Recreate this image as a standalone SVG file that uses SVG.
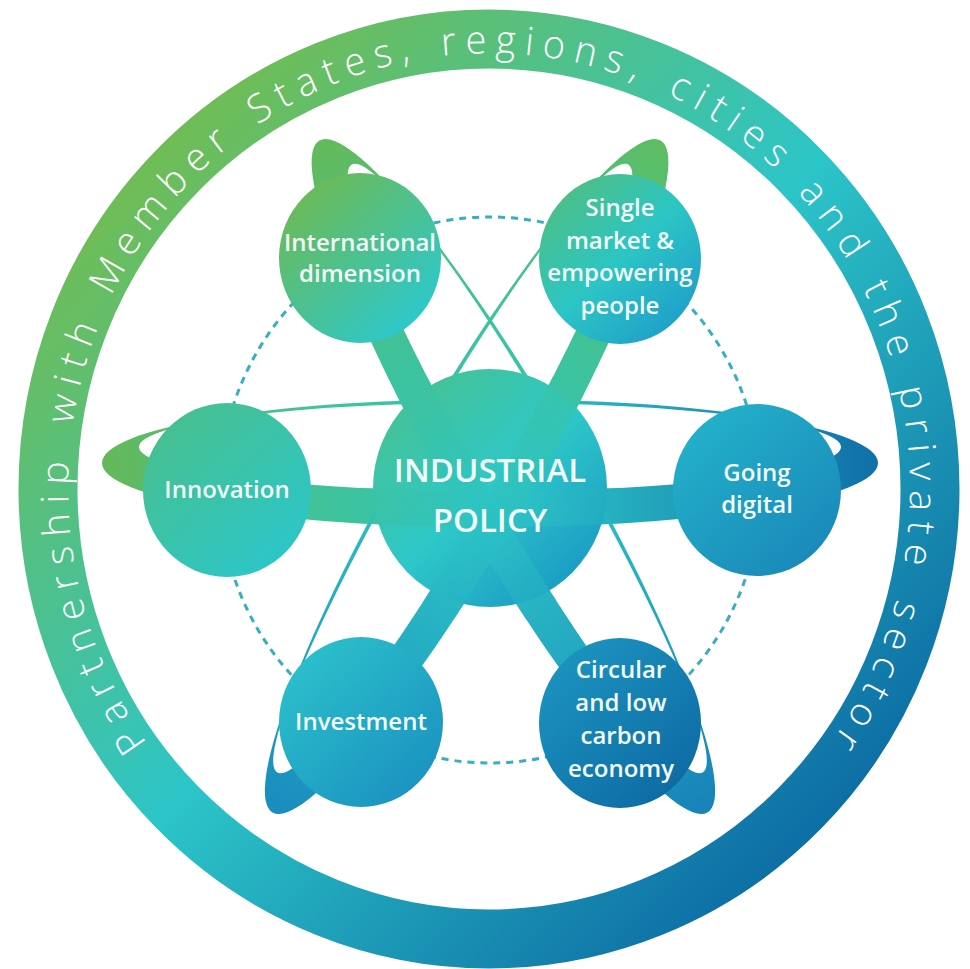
<svg xmlns="http://www.w3.org/2000/svg" width="970" height="969" viewBox="0 0 970 969">
<style>
.ring-text{font-family:"Open Sans","Liberation Sans",sans-serif;font-size:38px;font-weight:300;fill:#ffffff;letter-spacing:8.9px}
.lbl{font-family:"Open Sans","Liberation Sans",sans-serif;font-size:24px;font-weight:600;fill:#f2fbf8;text-anchor:middle}
.lbl-c{font-family:"Open Sans","Liberation Sans",sans-serif;font-size:33px;font-weight:600;fill:#f2fbf8;text-anchor:middle}
.dash{fill:none;stroke:#36afbf;stroke-width:3;stroke-dasharray:7 6}
</style>
<defs>
<linearGradient id="gRing" gradientUnits="userSpaceOnUse" x1="140" y1="140" x2="840" y2="840">
<stop offset="0" stop-color="#72bc50"/><stop offset="0.5" stop-color="#2cc5c8"/><stop offset="1" stop-color="#0c6aa3"/>
</linearGradient>
<linearGradient id="gOrbH" gradientUnits="userSpaceOnUse" x1="100" y1="0" x2="880" y2="0">
<stop offset="0" stop-color="#66b858"/><stop offset="0.3" stop-color="#3ec39c"/><stop offset="0.55" stop-color="#2cc3c6"/><stop offset="1" stop-color="#106fa8"/>
</linearGradient>
<linearGradient id="gOrbA" gradientUnits="userSpaceOnUse" x1="100" y1="0" x2="880" y2="0">
<stop offset="0" stop-color="#64ba5a"/><stop offset="0.3" stop-color="#3ec39c"/><stop offset="0.55" stop-color="#2cc3c6"/><stop offset="1" stop-color="#1782b8"/>
</linearGradient>
<linearGradient id="gOrbB" gradientUnits="userSpaceOnUse" x1="880" y1="0" x2="100" y2="0">
<stop offset="0" stop-color="#5ebd62"/><stop offset="0.3" stop-color="#3ec39c"/><stop offset="0.55" stop-color="#2cc3c6"/><stop offset="1" stop-color="#1a8cbe"/>
</linearGradient>
<linearGradient id="gIntl" x1="0.15" y1="0.1" x2="0.85" y2="0.9"><stop offset="0" stop-color="#6cba56"/><stop offset="1" stop-color="#2cc8cd"/></linearGradient>
<linearGradient id="gSingle" x1="0.15" y1="0.1" x2="0.85" y2="0.9"><stop offset="0" stop-color="#4cbf86"/><stop offset="0.5" stop-color="#2cc5c5"/><stop offset="1" stop-color="#1fa0ca"/></linearGradient>
<linearGradient id="gInno" x1="0.15" y1="0.1" x2="0.85" y2="0.9"><stop offset="0" stop-color="#47c090"/><stop offset="1" stop-color="#2cc6c8"/></linearGradient>
<linearGradient id="gDig" x1="0.15" y1="0.1" x2="0.85" y2="0.9"><stop offset="0" stop-color="#23b0c9"/><stop offset="1" stop-color="#1a89ba"/></linearGradient>
<linearGradient id="gInv" x1="0.15" y1="0.1" x2="0.85" y2="0.9"><stop offset="0" stop-color="#2bbfca"/><stop offset="1" stop-color="#1b93c1"/></linearGradient>
<linearGradient id="gCirc" x1="0.15" y1="0.1" x2="0.85" y2="0.9"><stop offset="0" stop-color="#1b93bf"/><stop offset="1" stop-color="#0e6ba4"/></linearGradient>
<linearGradient id="gCenter" x1="0.15" y1="0.1" x2="0.85" y2="0.9"><stop offset="0" stop-color="#45c296"/><stop offset="0.5" stop-color="#2ec8c8"/><stop offset="1" stop-color="#1b9bc5"/></linearGradient>
<path id="orbit" fill-rule="evenodd" d="M102,463 A388,64 0 1 0 878,463 A388,64 0 1 0 102,463 Z M139,447 A351,44 0 1 0 841,447 A351,44 0 1 0 139,447 Z"/>
<clipPath id="frontClip"><rect x="360" y="468" width="260" height="72"/></clipPath>
<path id="ringPath" d="M-341.9,245.6 A421,421 0 0 1 0,-421 A421,421 0 0 1 210.5,364.6"/>
</defs>

<g id="outer-ring">
<ellipse cx="489" cy="489" rx="441" ry="450" fill="none" stroke="url(#gRing)" stroke-width="59"/>
<g transform="translate(489 489) scale(1 1.035)">
<text class="ring-text"><textPath href="#ringPath" startOffset="0">Partnership</textPath></text>
<text class="ring-text"><textPath href="#ringPath" startOffset="324.2">with</textPath></text>
<text class="ring-text"><textPath href="#ringPath" startOffset="454.7">Member</textPath></text>
<text class="ring-text"><textPath href="#ringPath" startOffset="678.1">States,</textPath></text>
<text class="ring-text"><textPath href="#ringPath" startOffset="876.2">regions,</textPath></text>
<text class="ring-text"><textPath href="#ringPath" startOffset="1107.2">cities</textPath></text>
<text class="ring-text"><textPath href="#ringPath" startOffset="1269.5">and</textPath></text>
<text class="ring-text"><textPath href="#ringPath" startOffset="1382.7">the</textPath></text>
<text class="ring-text"><textPath href="#ringPath" startOffset="1486.3">private</textPath></text>
<text class="ring-text"><textPath href="#ringPath" startOffset="1691.5">sector</textPath></text>
</g>
</g>

<g id="dashed-circle">
<ellipse class="dash" cx="490" cy="490" rx="270" ry="273"/>
</g>

<g id="connectors">
<use href="#orbit" fill="url(#gOrbH)"/>
<use href="#orbit" fill="url(#gOrbA)" transform="rotate(60 490 490)"/>
<use href="#orbit" fill="url(#gOrbB)" transform="rotate(-60 490 490)"/>
</g>

<g id="node-industrial-policy">
<ellipse cx="490" cy="488" rx="117" ry="119" fill="url(#gCenter)"/>
<g id="front-bands" opacity="0.6">
<g clip-path="url(#frontClip)"><use href="#orbit" fill="url(#gOrbH)"/></g>
<g clip-path="url(#frontClip)" transform="rotate(60 490 490)"><use href="#orbit" fill="url(#gOrbA)"/></g>
<g clip-path="url(#frontClip)" transform="rotate(-60 490 490)"><use href="#orbit" fill="url(#gOrbB)"/></g>
</g>
<text class="lbl-c" x="490" y="482">INDUSTRIAL</text>
<text class="lbl-c" x="490" y="532">POLICY</text>
</g>

<g id="node-international">
<ellipse cx="360" cy="258" rx="81" ry="85" fill="url(#gIntl)"/>
<text class="lbl" x="360" y="251">International</text>
<text class="lbl" x="360" y="282">dimension</text>
</g>

<g id="node-single-market">
<ellipse cx="620" cy="259" rx="81" ry="85" fill="url(#gSingle)"/>
<text class="lbl" x="620" y="216">Single</text>
<text class="lbl" x="620" y="249">market &amp;</text>
<text class="lbl" x="620" y="281">empowering</text>
<text class="lbl" x="620" y="314">people</text>
</g>

<g id="node-innovation">
<ellipse cx="227" cy="490" rx="84" ry="87" fill="url(#gInno)"/>
<text class="lbl" x="227" y="498">Innovation</text>
</g>

<g id="node-going-digital">
<ellipse cx="757" cy="490" rx="84" ry="86" fill="url(#gDig)"/>
<text class="lbl" x="757" y="481">Going</text>
<text class="lbl" x="757" y="513">digital</text>
</g>

<g id="node-investment">
<ellipse cx="361" cy="722" rx="82" ry="85" fill="url(#gInv)"/>
<text class="lbl" x="361" y="730">Investment</text>
</g>

<g id="node-circular">
<ellipse cx="620" cy="723" rx="81" ry="85" fill="url(#gCirc)"/>
<text class="lbl" x="621" y="678">Circular</text>
<text class="lbl" x="621" y="711">and low</text>
<text class="lbl" x="621" y="744">carbon</text>
<text class="lbl" x="621" y="777">economy</text>
</g>
</svg>
